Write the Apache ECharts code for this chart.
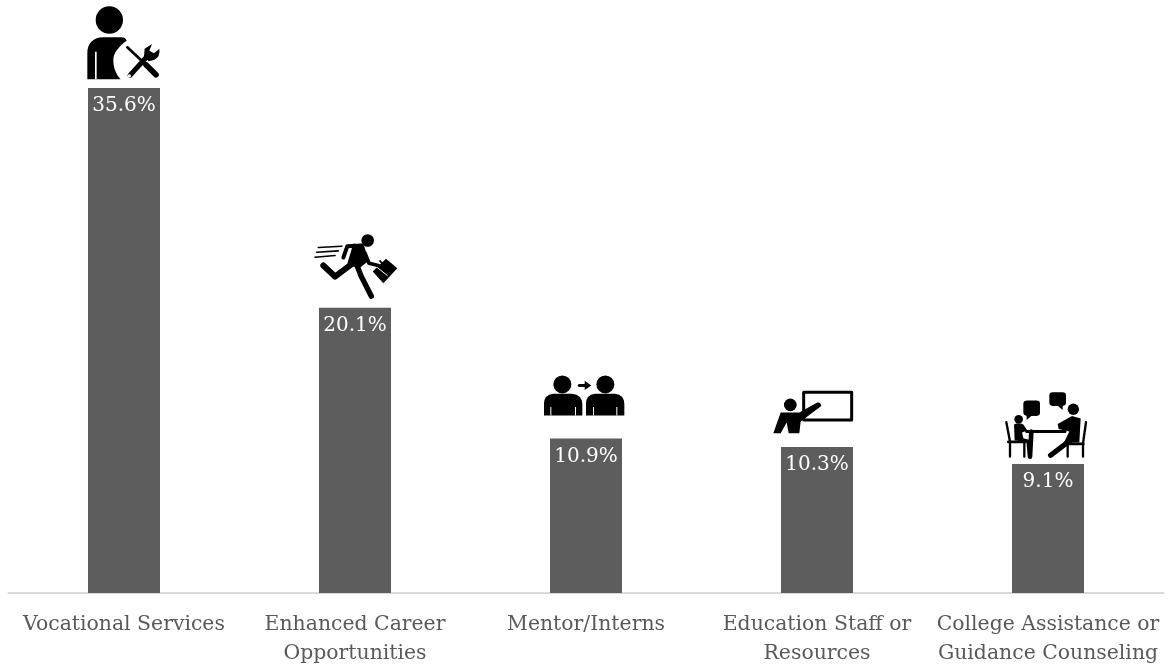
<!DOCTYPE html>
<html><head><meta charset="utf-8">
<style>html,body{margin:0;padding:0;background:#fff}#c{width:1168px;height:666px}</style>
<script src="https://cdn.jsdelivr.net/npm/echarts@6/dist/echarts.min.js"></script>
</head><body><div id="c"></div>
<script>
const categories = ['Vocational Services','Enhanced Career\nOpportunities','Mentor/Interns','Education Staff or\nResources','College Assistance or\nGuidance Counseling'];
const values = [35.6,20.1,10.9,10.3,9.1];
const FONT = '"DejaVu Serif"';
const B='#000', W='#fff';
const circ=(x,y,r)=>`M${x-r} ${y}a${r} ${r} 0 1 0 ${2*r} 0a${r} ${r} 0 1 0 ${-2*r} 0Z`;
const fill=(d,c=B)=>({d,fill:c});
const line=(d,lw,c=B)=>({d,stroke:c,lw});
// Glyphs drawn in 3x units; offset = glyph origin relative to the bar's top centre
const icons = [
 {off:[-64,-88],parts:[
  fill(circ(148,60,41)),
  fill('M82 238V160C82 130 100 112 130 112H185Q195 112 200 122C175 140 160 160 160 180C160 205 170 225 182 238Z'),
  fill('M105 155H110V238H105Z',W),
  line('M202 142L258 194',8),
  line('M258 194L288 224',17),
  line('M210 226L268 162',15),
  fill('M252 168L254 146L276 132L268 152L282 160L298 146Q302 170 282 180L266 184Z'),
  fill(circ(208,228,5),W)
 ]},
 {off:[-55,-83],parts:[
  fill(circ(203,47,19)),
  line('M55 68L125 64',5),line('M50 82L115 78',5),line('M45 97L105 92',5),
  fill('M160 56L192 62L206 108L176 132L142 116Z'),
  line('M185 62L142 64L130 98',12),
  line('M155 118L105 155L70 122',18),
  line('M170 120L184 155L214 214',16),
  line('M195 85L207 115L235 122',11),
  fill('M218 140L258 102L292 130L250 175Z'),
  line('M232 128L262 152',3,W),line('M248 118L240 108',5)
 ]},
 {off:[-56,-73],parts:[
  fill(circ(97,57,27)),
  fill('M42 150V115Q42 88 70 85H127Q155 88 157 115V150Z'),
  fill('M61 125H64V150H61ZM135 125H138V150H135Z',W),
  fill(circ(226,57,27)),
  fill('M168 150V115Q168 88 195 85H255Q282 88 283 115V150Z'),
  fill('M189 125H192V150H189ZM259 125H262V150H259Z',W),
  line('M148 60L168 60',9),
  fill('M164 46L184 60L164 74Z')
 ]},
 {off:[-57,-67],parts:[
  {d:'M131 37H275V120H131Z',fill:W,stroke:B,lw:9},
  fill(circ(91,75,19)),
  fill('M62 98H118L172 68Q182 66 184 78L122 125L118 160H86L80 128L62 160H40Z')
 ]},
 {off:[-58,-84],parts:[
  fill('M112 62H140Q150 62 150 72V98Q150 108 140 108H124L110 120L110 108Q100 106 100 98V72Q100 62 112 62Z'),
  fill('M188 37H218Q228 37 228 47V68Q228 78 218 78L218 90L204 78H188Q178 78 178 68V47Q178 37 188 37Z'),
  fill(circ(250,88,17)),
  fill(circ(86,118,13)),
  line('M110 155H225',9),
  line('M124 155L120 230',14),
  line('M49 127L60 185V230',7),
  line('M55 186H105',8),
  line('M103 186V230',7),
  fill('M72 134Q85 126 100 134L112 152L96 158L102 182H74Z'),
  line('M86 178L114 184L118 225',10),
  line('M288 127L279 190V230',7),
  line('M225 192H280',8),
  line('M233 192V230',7),
  fill('M203 132L246 108L272 116L268 188H222L238 155L206 147Z'),
  line('M245 178L182 226',16)
 ]}
];
const chart = echarts.init(document.getElementById('c'));
chart.setOption({
 animation:false,
 backgroundColor:'#fff',
 grid:{left:8.5,right:4.5,top:11.4,bottom:73,outerBoundsMode:'none'},
 xAxis:{type:'category',data:categories,axisTick:{show:false},
  axisLine:{lineStyle:{color:'#d9d9d9',width:2}},
  axisLabel:{interval:0,color:'#595959',fontFamily:FONT,fontSize:20.4,lineHeight:29,margin:17}},
 yAxis:{type:'value',min:0,max:41,show:false,splitLine:{show:false}},
 series:[
  {type:'bar',data:values,barWidth:72,itemStyle:{color:'#5d5d5d'},
   label:{show:true,position:'insideTop',distance:8,color:'#fff',fontFamily:FONT,fontSize:20,formatter:p=>p.value.toFixed(1)+'%'}},
  {type:'custom',silent:true,clip:false,z:5,data:values.map((v,i)=>[i,v]),encode:{x:0,y:1},
   renderItem:(params,api)=>{
    const p=api.coord([api.value(0),api.value(1)]);
    const ic=icons[params.dataIndex];
    return {type:'group',x:p[0]+ic.off[0],y:p[1]+ic.off[1],scaleX:1/3,scaleY:1/3,
     children:ic.parts.map(c=>({type:'path',shape:{pathData:c.d},
      style:{fill:c.fill||'none',stroke:c.stroke||'none',lineWidth:c.lw||0,lineCap:'round',lineJoin:'round'}}))};
   }}
 ]
});
</script></body></html>
